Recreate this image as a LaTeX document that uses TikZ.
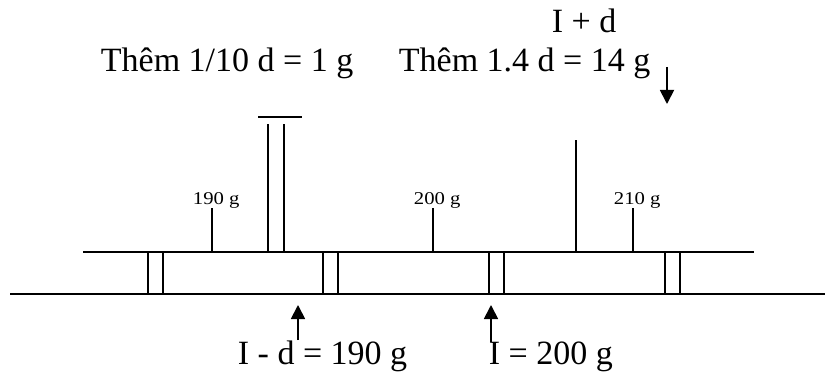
\documentclass[tikz,border=0pt]{standalone}
\usepackage{fontspec}
\setmainfont{Liberation Serif}
\usetikzlibrary{arrows.meta}
\begin{document}
\begin{tikzpicture}[x=0.5pt,y=-0.5pt,line width=0.9pt,
  big/.style={font=\fontsize{17}{20}\selectfont,inner sep=0pt,anchor=base west},
  small/.style={font=\fontsize{9}{11}\selectfont,inner sep=0pt,anchor=base west},
  arr/.style={-{Triangle[length=7pt,width=7pt]}}]
\useasboundingbox (0,0) rectangle (825,374);
% rails
\draw (83,252) -- (754,252);
\draw (10,294) -- (825,294);
% sleeper pairs
\foreach \x in {148,323,489,665}{
  \draw (\x,252) -- (\x,294);
  \draw (\x+15,252) -- (\x+15,294);
}
% ticks
\draw (212,252) -- (212,208);
\draw (433,252) -- (433,208);
\draw (633,252) -- (633,208);
\node[small] (l190) at (192,205) {\scalebox{1.15}[1]{190 g}};
\node[small] (l200) at (413,205) {\scalebox{1.15}[1]{200 g}};
\node[small] (l210) at (613,205) {\scalebox{1.15}[1]{210 g}};
% tall lines
\draw (576,252) -- (576,140);
\draw (268,252) -- (268,124);
\draw (284,252) -- (284,124);
\draw (258,117) -- (302,117);
% texts
\node[big] (t1) at (100,72) {Thêm 1/10 d = 1 g};
\node[big] (t2) at (398,72) {Thêm 1.4 d = 14 g};
\node[big,anchor=base] (tid) at (584,33) {I + d};
\node[big] (b1) at (237,364) {I - d = 190 g};
\node[big] (b2) at (488,364) {I = 200 g};
% arrows
\coordinate (a1s) at (298,340); \coordinate (a1e) at (298,305);
\coordinate (a2s) at (491,342); \coordinate (a2e) at (491,305);
\coordinate (a3s) at (667,67);  \coordinate (a3e) at (667,104);
\draw[arr] (a1s) -- (a1e);
\draw[arr] (a2s) -- (a2e);
\draw[arr] (a3s) -- (a3e);
\end{tikzpicture}
\end{document}
